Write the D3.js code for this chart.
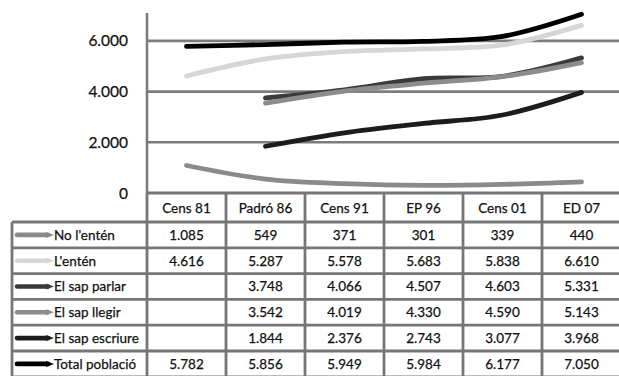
<!DOCTYPE html>
<html>
<head>
<meta charset="utf-8">
<script src="https://cdn.jsdelivr.net/npm/d3@7"></script>
<style>
  html, body { margin: 0; padding: 0; background: #fff; }
  svg { display: block; }
  text { font-family: Lato, "Open Sans", sans-serif; fill: #111; stroke: #111; stroke-width: 0.25px; }
</style>
</head>
<body>
<svg id="chart" width="619" height="376"></svg>
<script>
// Categories (columns of the data table)
const categories = ["Cens 81", "Padró 86", "Cens 91", "EP 96", "Cens 01", "ED 07"];

// Series values, one array per row of the data table
const noLenten      = [1085, 549, 371, 301, 339, 440];
const lenten        = [4616, 5287, 5578, 5683, 5838, 6610];
const sapParlar     = [null, 3748, 4066, 4507, 4603, 5331];
const sapLlegir     = [null, 3542, 4019, 4330, 4590, 5143];
const sapEscriure   = [null, 1844, 2376, 2743, 3077, 3968];
const totalPoblacio = [5782, 5856, 5949, 5984, 6177, 7050];

const seriesNames = ["No l'entén", "L'entén", "El sap parlar", "El sap llegir", "El sap escriure", "Total població"];
const seriesValues = [noLenten, lenten, sapParlar, sapLlegir, sapEscriure, totalPoblacio];
const seriesColors = ["#8a8a8a", "#d6d6d6", "#3a3a3a", "#8c8c8c", "#1c1c1c", "#000000"];

// Y axis ticks
const yTicks = [0, 2000, 4000, 6000];

// Catalan number format: "." for thousands
const locale = d3.formatLocale({ decimal: ",", thousands: ".", grouping: [3], currency: ["", " €"] });
const fmt = locale.format(",d");

const svg = d3.select("#chart");
const W = 619;

const plotLeft = 147, plotRight = 621, plotTop = 13, plotBottom = 193;
const x = d3.scaleBand().domain(categories).range([plotLeft, plotRight]).padding(0);
const y = d3.scaleLinear().domain([0, 7100]).range([plotBottom, plotTop]);
const cx = c => x(c) + x.bandwidth() / 2;

const gridColor = "#7c7c7c";
const gridWidth = 2.6;

// Horizontal gridlines
svg.append("g").selectAll("line").data(yTicks.filter(t => t > 0)).join("line")
  .attr("x1", plotLeft).attr("x2", W)
  .attr("y1", d => y(d)).attr("y2", d => y(d))
  .attr("stroke", gridColor).attr("stroke-width", gridWidth);

// Y axis line
svg.append("line")
  .attr("x1", plotLeft).attr("x2", plotLeft)
  .attr("y1", plotTop).attr("y2", plotBottom)
  .attr("stroke", gridColor).attr("stroke-width", gridWidth);

// Y tick labels
svg.append("g").selectAll("text").data(yTicks).join("text")
  .attr("x", 128).attr("y", d => y(d))
  .attr("dy", "0.36em")
  .attr("text-anchor", "end")
  .style("font-size", "15.5px")
  .text(d => fmt(d));

// Lines
const line = d3.line()
  .defined(d => d.v != null)
  .x(d => cx(d.c))
  .y(d => y(d.v))
  .curve(d3.curveCardinal.tension(0));

svg.append("g").selectAll("path").data(seriesValues).join("path")
  .attr("d", vals => line(vals.map((v, i) => ({ c: categories[i], v })).filter(d => d.v != null)))
  .attr("fill", "none")
  .attr("stroke", (d, i) => seriesColors[i])
  .attr("stroke-width", 4.8)
  .attr("stroke-linecap", "round")
  .attr("stroke-linejoin", "round");

// Data table
const tableLeft = 12;
const headerTop = plotBottom, headerBottom = 222;
const rowH = 25.8;
const rowTops = seriesNames.map((n, i) => headerBottom + i * rowH);
const tableBottom = headerBottom + seriesNames.length * rowH;

const table = svg.append("g");
const bColor = "#767676", bWidth = 2.8;

// Horizontal borders
table.append("line").attr("x1", plotLeft).attr("x2", W).attr("y1", headerTop).attr("y2", headerTop)
  .attr("stroke", bColor).attr("stroke-width", bWidth);
table.selectAll(".hrow").data(rowTops.concat([tableBottom])).join("line")
  .attr("x1", tableLeft).attr("x2", W)
  .attr("y1", d => d).attr("y2", d => d)
  .attr("stroke", bColor).attr("stroke-width", bWidth);

// Vertical borders
table.append("line").attr("x1", tableLeft).attr("x2", tableLeft)
  .attr("y1", headerBottom).attr("y2", tableBottom)
  .attr("stroke", bColor).attr("stroke-width", bWidth);
table.selectAll(".vcol").data(categories.map(c => x(c)).concat([plotRight])).join("line")
  .attr("x1", d => d).attr("x2", d => d)
  .attr("y1", headerTop).attr("y2", tableBottom)
  .attr("stroke", bColor).attr("stroke-width", bWidth);

// Header labels
table.selectAll(".head").data(categories).join("text")
  .attr("x", d => cx(d)).attr("y", (headerTop + headerBottom) / 2 + 1)
  .attr("dy", "0.36em").attr("text-anchor", "middle")
  .style("font-size", "13.5px")
  .text(d => d);

// Row legend keys and names
seriesNames.forEach((name, i) => {
  const cyRow = rowTops[i] + rowH / 2;
  const g = table.append("g");
  g.append("line")
    .attr("x1", 17).attr("x2", 48).attr("y1", cyRow).attr("y2", cyRow)
    .attr("stroke", seriesColors[i]).attr("stroke-width", 4.6).attr("stroke-linecap", "round");
  g.append("path")
    .attr("d", `M46,${cyRow - 3} L54,${cyRow} L46,${cyRow + 3} Z`)
    .attr("fill", seriesColors[i]);
  g.append("text")
    .attr("x", 54).attr("y", cyRow).attr("dy", "0.36em")
    .style("font-size", "13.5px")
    .text(name);
  // values
  g.selectAll(".val").data(seriesValues[i].map((v, j) => ({ c: categories[j], v })).filter(d => d.v != null))
    .join("text")
    .attr("x", d => cx(d.c)).attr("y", cyRow).attr("dy", "0.36em")
    .attr("text-anchor", "middle")
    .style("font-size", "13.5px")
    .text(d => fmt(d.v));
});
</script>
</body>
</html>
